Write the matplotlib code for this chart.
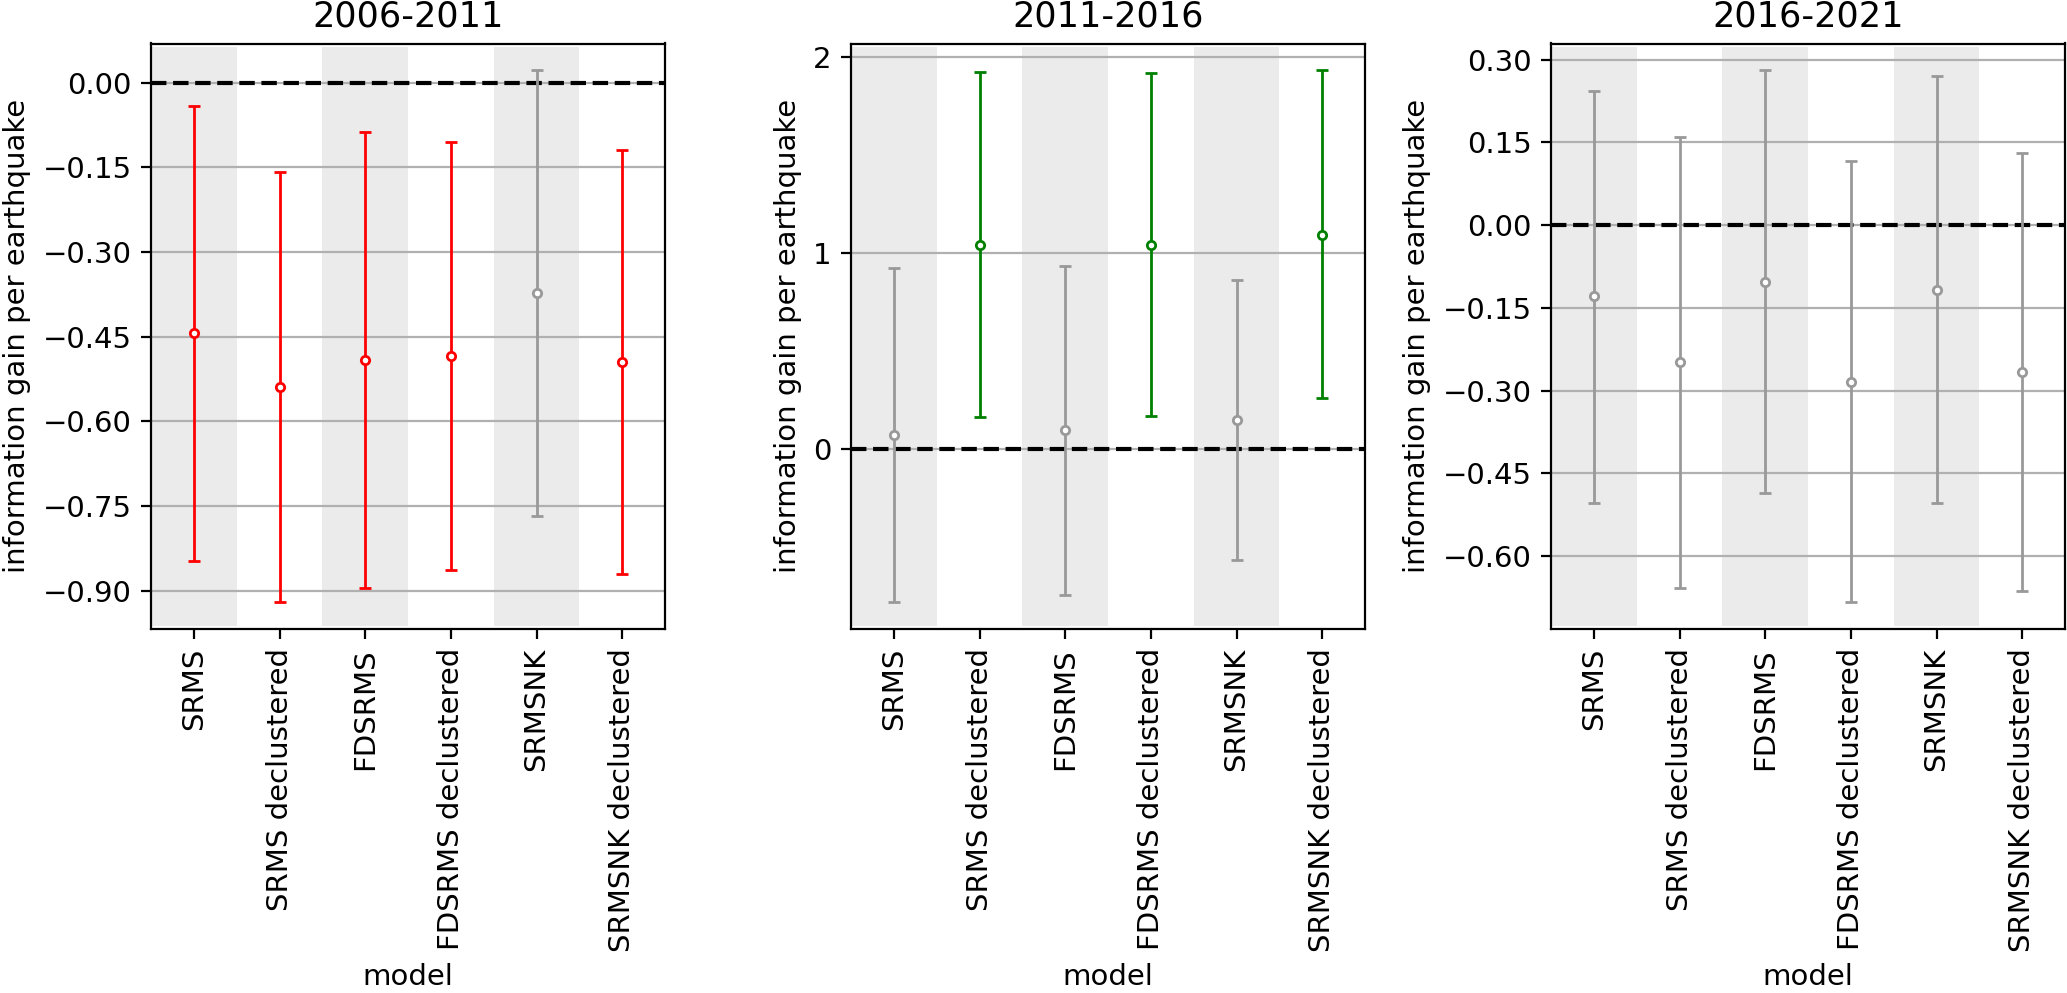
import matplotlib
matplotlib.use("Agg")
import matplotlib.pyplot as plt
import numpy as np

models = ["SRMS", "SRMS declustered", "FDSRMS", "FDSRMS declustered",
          "SRMSNK", "SRMSNK declustered"]
periods = ["2006-2011", "2011-2016", "2016-2021"]

center_2006 = [-0.444, -0.539, -0.491, -0.484, -0.373, -0.495]
lower_2006 = [-0.847, -0.920, -0.896, -0.863, -0.767, -0.870]
upper_2006 = [-0.041, -0.158, -0.088, -0.106, 0.022, -0.120]

center_2011 = [0.073, 1.044, 0.099, 1.041, 0.151, 1.095]
lower_2011 = [-0.777, 0.168, -0.740, 0.170, -0.561, 0.260]
upper_2011 = [0.925, 1.925, 0.937, 1.917, 0.866, 1.934]

center_2016 = [-0.129, -0.249, -0.103, -0.284, -0.117, -0.267]
lower_2016 = [-0.503, -0.657, -0.486, -0.683, -0.504, -0.663]
upper_2016 = [0.244, 0.160, 0.281, 0.117, 0.270, 0.130]

yticks_2006 = [-0.90, -0.75, -0.60, -0.45, -0.30, -0.15, 0.00]
yticks_2011 = [0, 1, 2]
yticks_2016 = [-0.60, -0.45, -0.30, -0.15, 0.00, 0.15, 0.30]

panels = [
    (periods[0], center_2006, lower_2006, upper_2006, yticks_2006, "{:.2f}"),
    (periods[1], center_2011, lower_2011, upper_2011, yticks_2011, "{:d}"),
    (periods[2], center_2016, lower_2016, upper_2016, yticks_2016, "{:.2f}"),
]

plt.rcParams['font.family'] = ['DejaVu Sans']
plt.rcParams['font.size'] = 10.5

fig = plt.figure(figsize=(2067 / 200, 993 / 200), dpi=200)
W, H = 2067, 993
lefts = [151, 851, 1551]
width = 514
top, bottom = 43.5, 628.5

for left, (title, c, lo, hi, yt, fmt) in zip(lefts, panels):
    ax = fig.add_axes([left / W, 1 - bottom / H, width / W, (bottom - top) / H])
    x = np.arange(len(models))
    c = np.array(c); lo = np.array(lo); hi = np.array(hi)
    ax.axhline(0, color='black', ls='--', lw=1.5, zorder=2)
    for i in range(len(models)):
        if hi[i] < 0:
            col = '#ff0000'
        elif lo[i] > 0:
            col = '#008000'
        else:
            col = '#999999'
        ax.errorbar([x[i]], [c[i]], yerr=[[c[i] - lo[i]], [hi[i] - c[i]]],
                    fmt='o', color=col, ecolor=col, mfc='white', mec=col,
                    ms=3, mew=1, elinewidth=1, capsize=2, capthick=1.3, zorder=3)
    ax.set_xlim(-0.5, len(models) - 0.5)
    ymin = lo.min(); ymax = hi.max(); rng = ymax - ymin
    ax.set_ylim(ymin - 0.05 * rng, ymax + 0.05 * rng)
    for i in range(0, len(models), 2):
        ax.axvspan(i - 0.5, i + 0.5, ymin=0.004, ymax=0.994,
                   color='#ebebeb', lw=0, zorder=0)
    ax.set_yticks(yt)
    ax.set_yticklabels([fmt.format(v).replace('-', '\u2212') for v in yt])
    ax.yaxis.grid(True, color='#b0b0b0', lw=0.8)
    ax.set_axisbelow('line')
    ax.set_xticks(x)
    ax.set_xticklabels(models, rotation=90)
    ax.set_xlabel("model")
    ax.set_ylabel("information gain per earthquake")
    ax.set_title(title, fontsize='large')

fig.savefig("out.png", dpi=200)
